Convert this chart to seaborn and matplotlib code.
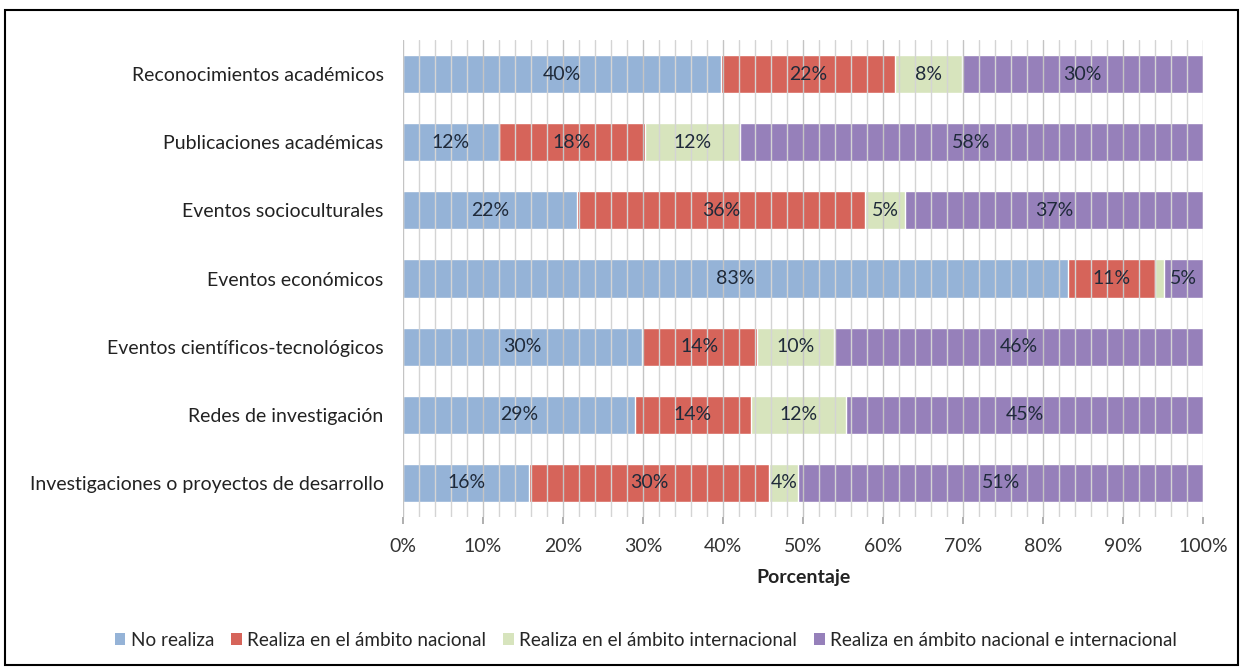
import matplotlib
matplotlib.use("Agg")
import matplotlib.pyplot as plt
import matplotlib.patches as mpatches
import seaborn as sns
import pandas as pd
import numpy as np

categories = [
    "Reconocimientos académicos",
    "Publicaciones académicas",
    "Eventos socioculturales",
    "Eventos económicos",
    "Eventos científicos-tecnológicos",
    "Redes de investigación",
    "Investigaciones o proyectos de desarrollo",
]
series_names = [
    "No realiza",
    "Realiza en el ámbito nacional",
    "Realiza en el ámbito internacional",
    "Realiza en ámbito nacional e internacional",
]
no_realiza = [39.7, 12.0, 21.8, 83.1, 29.9, 29.0, 15.8]
nacional = [21.8, 18.2, 36.0, 10.9, 14.4, 14.5, 30.0]
internacional = [8.4, 11.9, 4.9, 1.1, 9.6, 11.9, 3.6]
ambos = [30.1, 57.9, 37.3, 4.9, 46.1, 44.6, 50.6]
labels = [
    ["40%", "12%", "22%", "83%", "30%", "29%", "16%"],
    ["22%", "18%", "36%", "11%", "14%", "14%", "30%"],
    ["8%", "12%", "5%", "", "10%", "12%", "4%"],
    ["30%", "58%", "37%", "5%", "46%", "45%", "51%"],
]
colors = ["#95B3D7", "#D6645A", "#D7E4BD", "#9680BA"]
tick_vals = list(range(0, 101, 10))
tick_labels = [f"{t}%" for t in tick_vals]

sns.set_theme(style="white")
plt.rcParams["font.family"] = ["Lato", "DejaVu Sans"]

FS = 14

fig = plt.figure(figsize=(12.44, 6.71), dpi=100)
ax = fig.add_axes([403 / 1244, 1 - 517 / 671, 800 / 1244, 477 / 671])

series = [no_realiza, nacional, internacional, ambos]
cum = np.cumsum(np.array(series), axis=0)
# draw cumulative bars from largest to smallest so they stack
for i in range(3, -1, -1):
    df = pd.DataFrame({"cat": categories, "val": cum[i]})
    sns.barplot(data=df, y="cat", x="val", orient="h", color=colors[i],
                saturation=1, width=0.56, ax=ax, zorder=1)

# labels
for i in range(4):
    left = cum[i] - np.array(series[i])
    for j, lab in enumerate(labels[i]):
        if lab:
            ax.text(left[j] + series[i][j] / 2, j, lab, ha="center", va="center",
                    fontsize=FS, color="#1F2A3A", zorder=4)

ax.set_xlim(0, 100)
ax.set_ylim(6.5, -0.5)
ax.set_xticks(tick_vals)
ax.set_xticklabels(tick_labels, fontsize=FS, color="#333333")
ax.set_xticks(np.arange(0, 101, 2), minor=True)
ax.tick_params(axis="x", which="major", length=5, color="#A6A6A6", pad=10, bottom=True)
ax.tick_params(axis="x", which="minor", length=0)
ax.tick_params(axis="y", length=0, pad=14)
for t in ax.get_yticklabels():
    t.set_fontsize(FS)
    t.set_color("#222222")
ax.set_ylabel("")
ax.set_xlabel("Porcentaje", fontsize=FS, fontweight="bold", color="#222222", labelpad=10)

for x in np.arange(0, 101, 2):
    c = "#C4C4C4" if x % 10 == 0 else "#D4D4D4"
    ax.axvline(x, color=c, lw=1.0, zorder=3)
for s in ax.spines.values():
    s.set_visible(False)

handles = [mpatches.Patch(facecolor=c, edgecolor="none") for c in colors]
fig.legend(handles, series_names, loc="center", bbox_to_anchor=(646 / 1244, 1 - 640 / 671),
           ncol=4, frameon=False, fontsize=13.6, handlelength=0.55, handleheight=0.55,
           handletextpad=0.3, columnspacing=0.9)

fig.patches.append(mpatches.Rectangle((5 / 1244, 6 / 671), 1233 / 1244, 655 / 671,
                                      transform=fig.transFigure, fill=False,
                                      edgecolor="#000000", lw=1.5, figure=fig))

fig.savefig("out.png", dpi=100)
